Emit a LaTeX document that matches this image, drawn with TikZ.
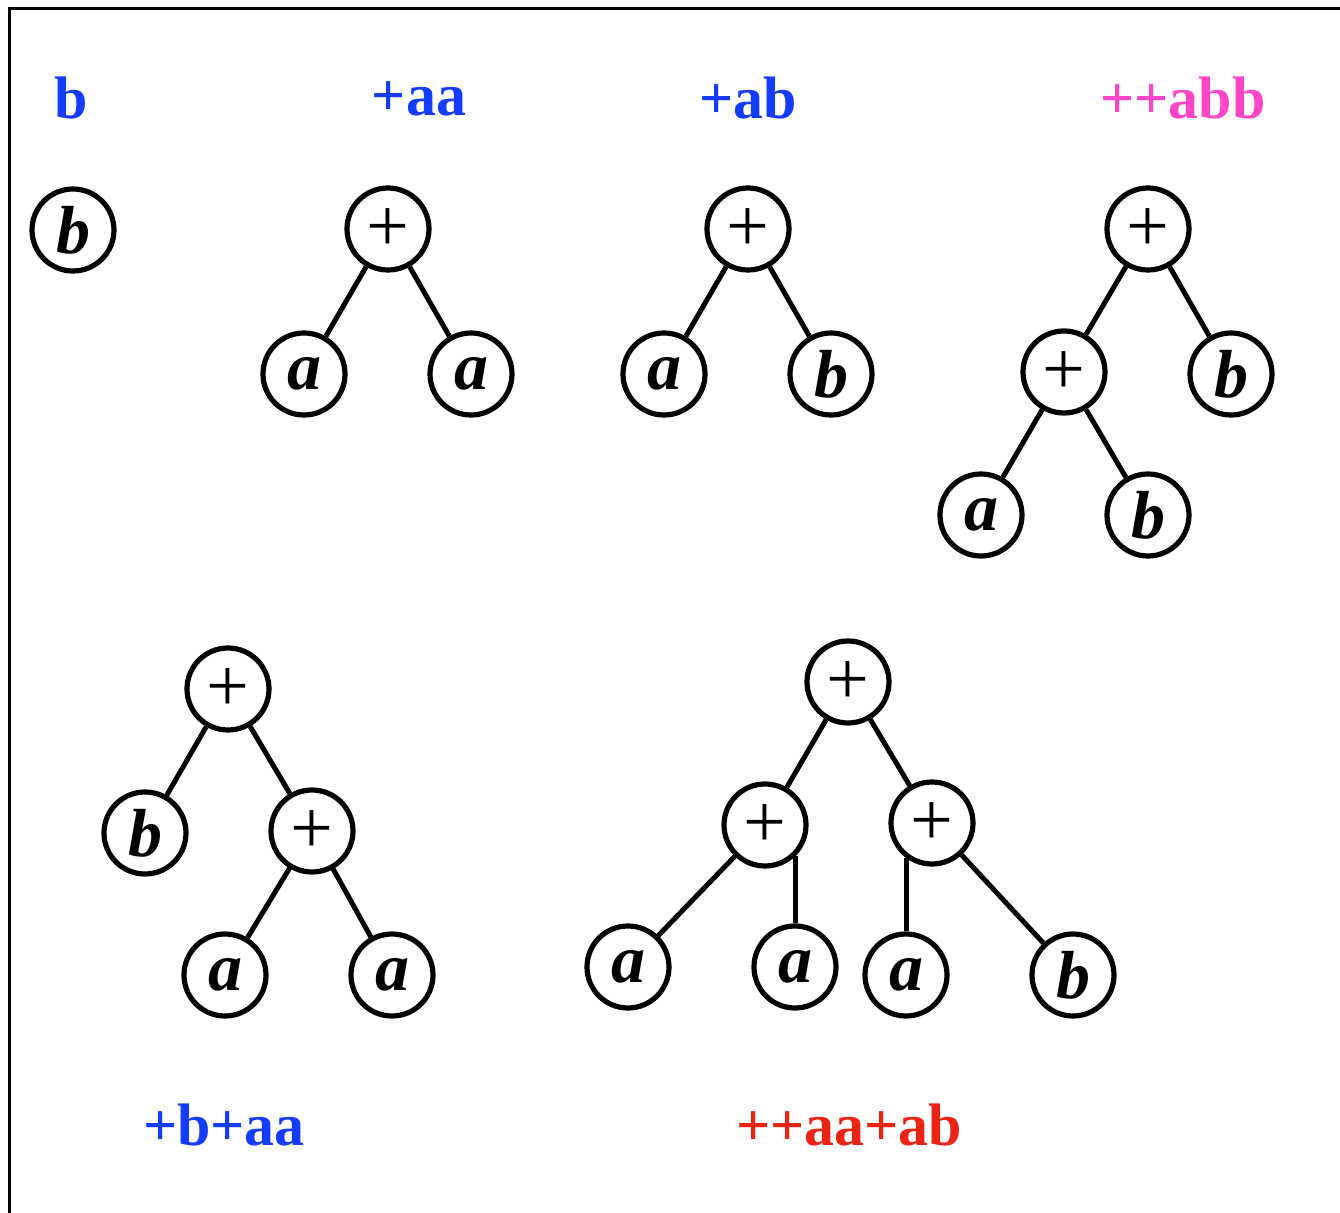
\documentclass[tikz,border=0pt]{standalone}
\usepackage{fontspec}
\setmainfont{Liberation Serif}
\definecolor{termblue}{RGB}{20,60,255}
\definecolor{termpink}{RGB}{255,70,200}
\definecolor{termred}{RGB}{235,35,20}
\tikzset{
  leaf/.style={circle,draw,line width=2.6pt,inner sep=0pt,minimum size=41pt,
    font=\fontsize{34}{40}\selectfont\bfseries\itshape},
  op/.style={leaf,font=\fontsize{38}{44}\selectfont,text height=23pt,text depth=0pt},
  word/.style={font=\fontsize{30}{36}\selectfont\bfseries},
  edge/.style={line width=2.5pt}
}

\begin{document}
\begin{tikzpicture}[x=0.5pt,y=-0.5pt]
        \useasboundingbox (0,0) rectangle (1340,1213);
        \draw [line width=1.5pt] (9,1220) -- (9,9) -- (1345,9);

        \node [word,termblue] (W0) at (71,98) {b};
        \node [leaf] (B0) at (73,230) {b};

        \node [word,termblue] (W1) at (419,99) {+aa};
        \node [op] (P1) at (388,229) {+};
        \node [leaf] (L1) at (304,374) {a};
        \node [leaf] (R1) at (471,374) {a};
        \draw [edge] (P1) -- (L1);
        \draw [edge] (P1) -- (R1);

        \node [word,termblue] (W2) at (748,98) {+ab};
        \node [op] (P2) at (748,229) {+};
        \node [leaf] (L2) at (664,374) {a};
        \node [leaf] (R2) at (831,374) {b};
        \draw [edge] (P2) -- (L2);
        \draw [edge] (P2) -- (R2);

        \node [word,termpink] (W3) at (1183,98) {++abb};
        \node [op] (P3) at (1148,229) {+};
        \node [op] (Q3) at (1064,372) {+};
        \node [leaf] (R3) at (1231,374) {b};
        \node [leaf] (QL3) at (981,515) {a};
        \node [leaf] (QR3) at (1148,515) {b};
        \draw [edge] (P3) -- (Q3);
        \draw [edge] (P3) -- (R3);
        \draw [edge] (Q3) -- (QL3);
        \draw [edge] (Q3) -- (QR3);

        \node [word,termblue] (W4) at (224,1125) {+b+aa};
        \node [op] (P4) at (228,689) {+};
        \node [leaf] (L4) at (145,833) {b};
        \node [op] (Q4) at (312,831) {+};
        \node [leaf] (QL4) at (225,975) {a};
        \node [leaf] (QR4) at (392,975) {a};
        \draw [edge] (P4) -- (L4);
        \draw [edge] (P4) -- (Q4);
        \draw [edge] (Q4) -- (QL4);
        \draw [edge] (Q4) -- (QR4);

        \node [word,termred] (W5) at (849,1125) {++aa+ab};
        \node [op] (P5) at (848,682) {+};
        \node [op] (L5) at (765,825) {+};
        \node [op] (R5) at (932,823) {+};
        \node [leaf] (LL5) at (628,967) {a};
        \node [leaf] (LR5) at (795,967) {a};
        \node [leaf] (RL5) at (906,975) {a};
        \node [leaf] (RR5) at (1073,975) {b};
        \draw [edge] (P5) -- (L5);
        \draw [edge] (P5) -- (R5);
        \draw [edge] (L5) -- (LL5);
        \draw [edge] (LR5.north) -- (LR5.north |- L5.-46);
        \draw [edge] (RL5.north) -- (RL5.north |- R5.-127);
        \draw [edge] (R5) -- (RR5);
\end{tikzpicture}
\end{document}
